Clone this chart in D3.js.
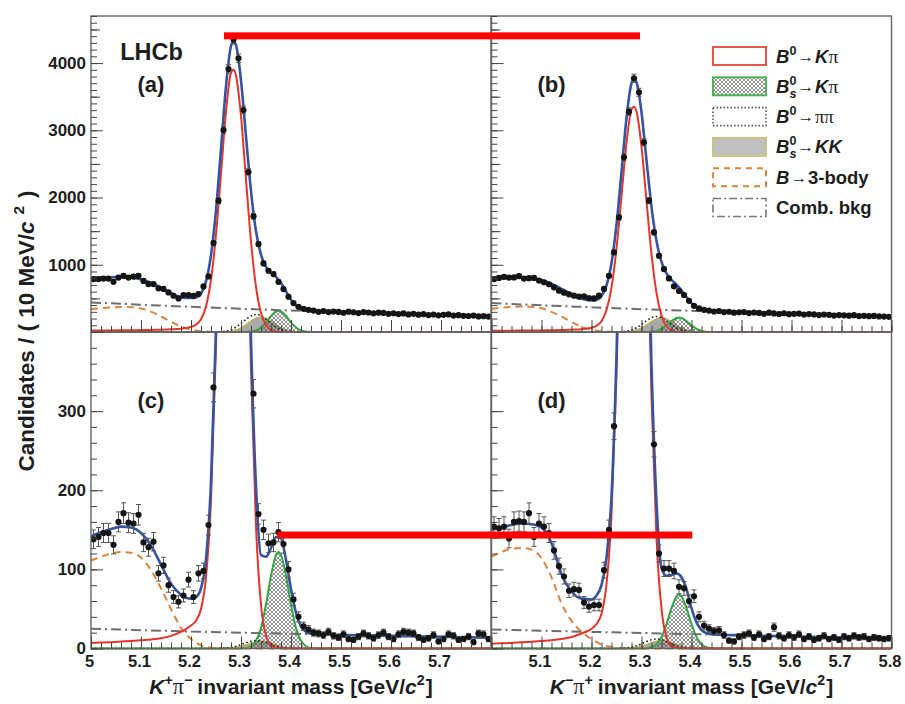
<!DOCTYPE html>
<html><head><meta charset="utf-8">
<script src="https://cdn.jsdelivr.net/npm/d3@7"></script>
<style>
body{margin:0;background:#fff;}
text{font-family:"Liberation Sans",Arial,Helvetica,sans-serif;font-weight:bold;fill:#1e1e1e;}
</style></head><body>
<svg id="chart" width="905" height="704"></svg>
<script>
// ---------------- data ----------------
const massDomain = [5.0, 5.8];
const binStart = 5.0, binWidth = 0.01;

// candidates per 10 MeV bin (80 bins, 5.00 - 5.80)
const countsA = [787,787,794,794,747,810,836,810,825,836, 760,713,713,649,640,589,539,500,549,549,
  539,564,678,827,1323,1953,3004,3912,4349,4071, 3302,2380,1720,1308,1020,911,862,747,638,524,
  430,375,345,330,318,300,312,296,305,299, 286,302,294,281,297,290,278,288,283,270,
  279,268,276,262,271,258,265,252,260,248, 256,262,244,250,241,238,245,232,236,230];
const countsB = [787,805,820,810,812,830,795,800,805,765, 740,710,665,615,585,560,540,525,530,505,
  500,540,640,836,1184,1705,2598,3277,3773,3565, 2821,1953,1482,1134,936,797,680,610,550,464,
  390,351,330,318,305,312,296,301,288,294, 297,281,290,284,271,287,276,268,279,265,
  270,274,259,266,262,251,260,255,244,252, 248,243,250,237,241,235,239,231,229,225];
const countsC = [138,141,146,146,131,160,171,159,158,169, 134,128,135,95,105,80,65,59,67,87,
  65,95,98,156,330,560,880,1150,1290,1130, 860,530,322,170,150,133,134,147,132,100,
  62,40,28,24,20,19,17,21,16,14, 18,12,11,15,19,16,13,17,20,15,
  12,18,21,20,19,14,11,13,17,9, 12,18,16,11,12,15,8,19,18,12];
const countsD = [154,152,154,139,160,161,160,171,141,158, 154,146,124,104,91,73,75,74,58,53,
  55,55,99,150,281,500,790,1050,1150,1040, 780,485,258,120,101,101,98,78,76,60,
  66,40,29,25,22,23,17,10,9,15, 17,19,14,18,12,15,27,16,13,17,
  14,18,12,15,11,13,16,12,14,11, 15,13,16,14,15,12,14,13,12,13];

// fit curves (values read at these masses)
const fitX = [5.00,5.02,5.04,5.06,5.08,5.10,5.12,5.14,5.16,5.18,5.20,5.21,5.22,5.23,5.24,5.25,5.26,5.27,5.28,5.285,
  5.29,5.30,5.31,5.32,5.33,5.34,5.35,5.36,5.37,5.38,5.39,5.40,5.41,5.42,5.43,5.44,5.46,5.50,5.55,5.60,5.65,5.70,5.75,5.80];
const totalA = [800,809,815,816,808,785,733,659,580,515,505,515,571,752,1144,1809,2721,3652,4256,4322,
  4267,3743,2908,2095,1498,1146,968,884,820,728,605,481,392,342,320,312,305,295,284,272,261,251,241,231];
const totalB = [793,802,809,809,800,773,718,642,565,493,468,477,534,692,1025,1596,2379,3180,3700,3759,
  3714,3267,2555,1862,1352,1042,871,777,703,619,521,429,365,329,313,306,301,291,280,269,259,249,240,230];
const totalC = [142,147,151,154,153,146,130,106,82,68,63,65,76,113,210,404,700,1030,1250,1275,
  1242,1018,687,391,205,118,116,127,141,139,112,75,45,28,21,18.7,17.8,17.2,16.6,16,15.4,14.8,14.25,13.7];
const totalD = [150,153,156,158,157,153,133,94,72,63,62,67,80,115,192,370,637,933,1131,1152,
  1125,924,625,358,185,102,92,93,95,90,75,51,33,23.3,19.4,18,17.3,16.8,16,15.3,14.5,13.8,13,12.3];

const b0KpiA = [21,22,23.5,25,26.5,28,31,34,40,50,77,110,190,380,777,1447,2357,3278,3856,3900,
  3816,3208,2267,1347,672,282,99,30,8,1.5,0.3,0,0,0,0,0,0,0,0,0,0,0,0,0];
const b0KpiB = [18,19,20,21,22,23,26,28,35,42,64,91,160,326,665,1240,2022,2814,3311,3350,
  3278,2756,1947,1157,578,243,85,25,6.3,1.3,0.3,0,0,0,0,0,0,0,0,0,0,0,0,0];
const b0KpiC = [7,7.5,8,8.7,9.5,10.5,11.5,13,16,21,29,35,50,90,188,383,679,1008,1227,1250,
  1218,991,655,353,154,55,16,4,1,0.2,0,0,0,0,0,0,0,0,0,0,0,0,0,0];
const b0KpiD = [6,6.5,7,7.8,8.5,9.5,10.5,12,14.5,19,25,31,44,81,169,346,614,911,1109,1130,
  1101,896,592,319,139,50,14,3.6,1,0.2,0,0,0,0,0,0,0,0,0,0,0,0,0,0];

const bsKpiX = [5.00,5.30,5.31,5.32,5.33,5.34,5.35,5.36,5.37,5.375,5.38,5.39,5.40,5.41,5.42,5.43,5.44,5.45,5.80];
const bsKpiA = [0,0.3,1.6,7.2,25,68,144,238,305,315,305,238,144,68,25,7.2,1.6,0.3,0];
const bsKpiB = [0,0.2,1.1,4.9,17,47,98,162,208,215,208,162,98,47,17,4.9,1.1,0.2,0];
const bsKpiC = [0,0.1,0.6,2.8,9.7,26,56,92,118,122,118,92,56,26,9.7,2.8,0.6,0.1,0];
const bsKpiD = [0,0.06,0.35,1.6,5.4,14.7,31,51,66,68,66,51,31,14.7,5.4,1.6,0.35,0.06,0];

const pipiX = [5.00,5.23,5.24,5.25,5.26,5.27,5.28,5.29,5.30,5.31,5.32,5.33,5.34,5.35,5.36,5.37,5.38,5.39,5.40,5.41,5.42,5.43,5.80];
const pipiA = [0,0.1,0.4,1.6,5.1,14.6,35.2,72.3,126.6,188.8,240,260,240,188.8,126.6,72.3,35.2,14.6,5.1,1.6,0.4,0.1,0];
const pipiB = [0,0.1,0.3,1.4,4.6,12.9,31.1,63.9,112,167,212.3,230,212.3,167,112,63.9,31.1,12.9,4.6,1.4,0.3,0.1,0];
const pipiC = [0,0,0.02,0.06,0.2,0.56,1.35,2.78,4.87,7.26,9.23,10,9.23,7.26,4.87,2.78,1.35,0.56,0.2,0.06,0.02,0,0];
const pipiD = [0,0,0.02,0.07,0.24,0.67,1.62,3.34,5.84,8.71,11.08,12,11.08,8.71,5.84,3.34,1.62,0.67,0.24,0.07,0.02,0,0];

const kkX = [5.00,5.24,5.25,5.26,5.27,5.28,5.29,5.30,5.31,5.32,5.33,5.34,5.35,5.36,5.37,5.38,5.39,5.40,5.41,5.42,5.43,5.44,5.80];
const kkA = [0,0.1,0.3,1.3,4.4,12.3,29.8,61.2,107.1,159.7,203.1,220,203.1,159.7,107.1,61.2,29.8,12.3,4.4,1.3,0.3,0.1,0];
const kkB = [0,0.1,0.3,1.3,4.2,11.8,28.4,58.4,102.3,152.5,193.8,210,193.8,152.5,102.3,58.4,28.4,11.8,4.2,1.3,0.3,0.1,0];
const kkC = [0,0,0.01,0.05,0.18,0.5,1.22,2.5,4.38,6.53,8.31,9,8.31,6.53,4.38,2.5,1.22,0.5,0.18,0.05,0.01,0,0];
const kkD = [0,0,0.02,0.06,0.2,0.56,1.35,2.78,4.87,7.26,9.23,10,9.23,7.26,4.87,2.78,1.35,0.56,0.2,0.06,0.02,0,0];

const threeBodyX = [5.00,5.02,5.04,5.06,5.08,5.10,5.12,5.14,5.16,5.18,5.20,5.22,5.24,5.26,5.30,5.80];
const threeBodyA = [339,354,366,372,369,351,302,232,153,79,37,12,3,0,0,0];
const threeBodyB = [345,360,372,378,374,352,300,228,150,77,36,12,3,0,0,0];
const threeBodyC = [111,116,120,122,121,115,99,76,50,26,12,4,1,0,0,0];
const threeBodyD = [116,122,126,127,125,114,90,57,35,21,12,5,2,0,0,0];

const combX = [5.0,5.1,5.2,5.3,5.4,5.5,5.6,5.7,5.8];
const combA = [440,406,375,346,320,295,272,251,231];
const combB = [430,398,368,340,315,291,269,249,230];
const combC = [25,23.2,21.5,20,18.6,17.2,16,14.8,13.7];
const combD = [24,22.5,21,19.6,18.2,16.8,15.3,13.8,12.3];

// axis ticks / labels
const yTopLabels = [1000,2000,3000,4000];
const yBottomLabels = [0,100,200,300];
const xLabelsLeft = [5.0,5.1,5.2,5.3,5.4,5.5,5.6,5.7];
const xLabelsRight = [5.1,5.2,5.3,5.4,5.5,5.6,5.7,5.8];
const panelNames = ['(a)','(b)','(c)','(d)'];
const legendNames = ['B0→Kπ','Bs0→Kπ','B0→ππ','Bs0→KK','B→3-body','Comb. bkg'];
// annotation bars (data coordinates)
const markers = [
  {from:0, fromX:5.266, to:1, toX:5.297, y:4405},
  {from:2, fromX:5.3726, to:3, toX:5.4016, y:143.4}
];

// ---------------- layout ----------------
const colRanges = [[91,491],[491.5,891.5]];
const rowRanges = [[16,332],[332,648.5]];
const yDomains = [[0,4700],[0,400]];
const C = {blue:'#3553a3', red:'#e5352b', green:'#35a545', orange:'#d8853f', comb:'#6e6e6e',
           grey:'#a9a9a9', olive:'#b9b265', frame:'#666'};

const svg = d3.select('#chart');
const defs = svg.append('defs');
const pat = defs.append('pattern').attr('id','hatch').attr('width',4).attr('height',4)
  .attr('patternUnits','userSpaceOnUse');
pat.append('path').attr('d','M0,0L4,4M4,0L0,4M-1,3L1,5M3,-1L5,1M-1,1L1,-1M3,5L5,3')
  .attr('stroke','#4a4a4a').attr('stroke-width',0.6);

const xScales = colRanges.map(r => d3.scaleLinear().domain(massDomain).range(r));
const yScales = rowRanges.map((r,i) => d3.scaleLinear().domain(yDomains[i]).range([r[1], r[0]]));

const panels = [
  {col:0,row:0,counts:countsA,total:totalA,red:b0KpiA,bs:bsKpiA,pipi:pipiA,kk:kkA,three:threeBodyA,comb:combA},
  {col:1,row:0,counts:countsB,total:totalB,red:b0KpiB,bs:bsKpiB,pipi:pipiB,kk:kkB,three:threeBodyB,comb:combB},
  {col:0,row:1,counts:countsC,total:totalC,red:b0KpiC,bs:bsKpiC,pipi:pipiC,kk:kkC,three:threeBodyC,comb:combC},
  {col:1,row:1,counts:countsD,total:totalD,red:b0KpiD,bs:bsKpiD,pipi:pipiD,kk:kkD,three:threeBodyD,comb:combD}
];

const xMajor = d3.range(0,9).map(i => 5 + i*0.1);
const xMinor = d3.range(0,41).map(i => 5 + i*0.02);
const yTicks = [
  {major: d3.range(0,4701,1000), mid: d3.range(500,4701,1000), minor: d3.range(0,4701,100)},
  {major: d3.range(0,401,100), mid: [], minor: d3.range(0,401,20)}
];

function styleTicks(sel){ sel.select('.domain').remove(); sel.selectAll('line').attr('stroke','#444').attr('stroke-width',1); }

panels.forEach((p,i) => {
  const x = xScales[p.col], y = yScales[p.row];
  const [x0,x1] = x.range(); const [yb,yt] = y.range();
  const g = svg.append('g');
  defs.append('clipPath').attr('id','clip'+i).append('rect')
    .attr('x',x0).attr('y',yt).attr('width',x1-x0).attr('height',yb-yt+1.5);
  const cg = g.append('g').attr('clip-path',`url(#clip${i})`);
  const line = xs => d3.line().x((d,k)=>x(xs[k])).y(d=>y(d)).curve(d3.curveMonotoneX);
  const area = xs => d3.area().x((d,k)=>x(xs[k])).y0(y(0)).y1(d=>y(d)).curve(d3.curveMonotoneX);

  // B0s -> KK (grey)
  cg.append('path').attr('d',area(kkX)(p.kk)).attr('fill',C.grey).attr('stroke','none');
  cg.append('path').attr('d',line(kkX)(p.kk)).attr('fill','none').attr('stroke',C.olive).attr('stroke-width',1.6);
  // B0s -> Kpi (hatched)
  cg.append('path').attr('d',area(bsKpiX)(p.bs)).attr('fill','url(#hatch)').attr('stroke','none');
  cg.append('path').attr('d',line(bsKpiX)(p.bs)).attr('fill','none').attr('stroke',C.green).attr('stroke-width',2);
  // 3-body
  cg.append('path').attr('d',line(threeBodyX)(p.three)).attr('fill','none').attr('stroke',C.orange)
    .attr('stroke-width',2).attr('stroke-dasharray','7,5');
  // combinatorial
  cg.append('path').attr('d',line(combX)(p.comb)).attr('fill','none').attr('stroke',C.comb)
    .attr('stroke-width',2).attr('stroke-dasharray','10,4,2,4');
  // B0 -> pipi
  cg.append('path').attr('d',line(pipiX)(p.pipi)).attr('fill','none').attr('stroke','#222')
    .attr('stroke-width',1.6).attr('stroke-dasharray','1.6,2.4');
  // B0 -> Kpi
  cg.append('path').attr('d',line(fitX)(p.red)).attr('fill','none').attr('stroke',C.red).attr('stroke-width',2);
  // total
  cg.append('path').attr('d',line(fitX)(p.total)).attr('fill','none').attr('stroke',C.blue).attr('stroke-width',2.6);

  // data points with Poisson error bars
  const pts = cg.append('g');
  p.counts.forEach((v,k) => {
    const xc = x(binStart + binWidth*(k+0.5));
    const e = Math.sqrt(v);
    pts.append('line').attr('x1',xc).attr('x2',xc).attr('y1',y(v-e)).attr('y2',y(v+e))
      .attr('stroke','#555').attr('stroke-width',1);
    [v-e, v+e].forEach(vv => pts.append('line').attr('x1',xc-2.5).attr('x2',xc+2.5)
      .attr('y1',y(vv)).attr('y2',y(vv)).attr('stroke','#555').attr('stroke-width',1));
    pts.append('circle').attr('cx',xc).attr('cy',y(v)).attr('r',3.1).attr('fill','#151515');
  });

  // frame
  g.append('rect').attr('x',x0).attr('y',yt).attr('width',x1-x0).attr('height',yb-yt)
    .attr('fill','none').attr('stroke',C.frame).attr('stroke-width',1.4);

  // x ticks (inside, from the bottom)
  g.append('g').attr('transform',`translate(0,${yb})`)
    .call(d3.axisBottom(x).tickValues(xMinor).tickSize(-6).tickFormat('')).call(styleTicks);
  g.append('g').attr('transform',`translate(0,${yb})`)
    .call(d3.axisBottom(x).tickValues(xMajor).tickSize(-12).tickFormat('')).call(styleTicks);
  // y ticks (inside, from the left)
  const yt_ = yTicks[p.row];
  g.append('g').attr('transform',`translate(${x0},0)`)
    .call(d3.axisRight(y).tickValues(yt_.minor).tickSize(6).tickFormat('')).call(styleTicks);
  if (yt_.mid.length) g.append('g').attr('transform',`translate(${x0},0)`)
    .call(d3.axisRight(y).tickValues(yt_.mid).tickSize(9).tickFormat('')).call(styleTicks);
  g.append('g').attr('transform',`translate(${x0},0)`)
    .call(d3.axisRight(y).tickValues(yt_.major).tickSize(12).tickFormat('')).call(styleTicks);

  // labels
  if (p.row === 1) {
    const ax = g.append('g').attr('transform',`translate(-2,${yb})`)
      .call(d3.axisBottom(x).tickValues(p.col===0 ? xLabelsLeft : xLabelsRight).tickSize(0).tickPadding(6.5)
        .tickFormat(d => Math.abs(d-5) < 1e-9 ? '5' : d3.format('.1f')(d)));
    ax.select('.domain').remove();
    ax.attr('font-size',16.5);
  }
  if (p.col === 0) {
    const ay = g.append('g').attr('transform',`translate(${x0},0)`)
      .call(d3.axisLeft(y).tickValues(p.row===0 ? yTopLabels : yBottomLabels).tickSize(0).tickPadding(5)
        .tickFormat(d3.format('d')));
    ay.select('.domain').remove();
    ay.attr('font-size',17);
  }
  // panel label
  g.append('text').attr('x', x0 + 60).attr('y', p.row===0 ? 92 : 408).attr('text-anchor','middle')
    .attr('font-size',22).text(panelNames[i]);
});

svg.append('text').attr('x',151.5).attr('y',60).attr('text-anchor','middle').attr('font-size',23.5).text('LHCb');

// ---------------- rich text helper ----------------
function rich(parent, segs, size){
  const g = parent.append('g');
  let x = 0, segStart = 0;
  segs.forEach(s => {
    const t = g.append('text').attr('font-size', size*(s.k||1)).text(s.t);
    if (s.it) t.attr('font-style','italic');
    if (s.serif) t.style('font-family','"Liberation Serif","DejaVu Serif",serif').style('font-weight','normal');
    if (s.light) t.style('font-weight','normal');
    const xs = s.stack ? segStart : x;
    t.attr('x', xs + (s.dx||0)).attr('y', s.dy||0);
    const w = t.node().getComputedTextLength() + (s.dx||0);
    if (s.stack) x = Math.max(x, xs + w); else { segStart = xs + (s.dx||0); x = xs + w; }
  });
  return {g, width:x};
}

// axis titles
const sup = (t) => ({t, k:0.68, dy:-9});
function xTitle(segs, cx){
  const r = rich(svg, segs, 21);
  r.g.attr('transform',`translate(${cx - r.width/2},694)`);
}
xTitle([{t:'K',it:true}, sup('+'), {t:'π',serif:true,k:1.05}, sup('−'), {t:'invariant mass [GeV/',dx:5},
        {t:'c',it:true}, sup('2'), {t:']',dx:1}], 291);
xTitle([{t:'K',it:true}, sup('−'), {t:'π',serif:true,k:1.05}, sup('+'), {t:'invariant mass [GeV/',dx:5},
        {t:'c',it:true}, sup('2'), {t:']',dx:1}], 691.5);
{
  const r = rich(svg, [{t:'Candidates / ( 10 MeV/'}, {t:'c',it:true}, {t:'2',k:0.68,dy:-10,dx:7}, {t:')',dx:8}], 22.5);
  r.g.attr('transform',`translate(34,${331 + r.width/2}) rotate(-90)`);
}

// ---------------- legend ----------------
const legendStyles = [
  {fill:'#fff', stroke:'#e25a44', dash:null, w:2},
  {fill:'url(#hatch)', stroke:'#4db258', dash:null, w:2},
  {fill:'#fff', stroke:'#555', dash:'1.5,2', w:1.6},
  {fill:'#c0c0c0', stroke:'#c9c283', dash:null, w:2},
  {fill:'#fff', stroke:C.orange, dash:'6,5', w:2},
  {fill:'#fff', stroke:'#777', dash:'8,3,2,3', w:1.6}
];
const B = {t:'B',it:true}, zero = {t:'0',k:0.68,dy:-8}, sub_s = {t:'s',it:true,k:0.68,dy:5,stack:true},
      arrow = {t:'→',k:0.9,dy:-1,light:true,dx:1};
const legendSegs = [
  [B, zero, arrow, {t:'K',it:true,dx:1}, {t:'π',serif:true,k:1.05}],
  [B, zero, sub_s, arrow, {t:'K',it:true,dx:1}, {t:'π',serif:true,k:1.05}],
  [B, zero, arrow, {t:'ππ',serif:true,k:1.0,dx:1}],
  [B, zero, sub_s, arrow, {t:'KK',it:true,dx:1}],
  [B, arrow, {t:'3-body',dx:1}],
  [{t:legendNames[5]}]
];
const legY = d3.scaleLinear().domain([0,5]).range([56,207.5]);
legendNames.forEach((name,i) => {
  const s = legendStyles[i], cy = legY(i);
  const r = svg.append('rect').attr('x',713).attr('y',cy-9).attr('width',53).attr('height',18)
    .attr('fill',s.fill).attr('stroke',s.stroke).attr('stroke-width',s.w);
  if (s.dash) r.attr('stroke-dasharray',s.dash);
  const t = rich(svg, legendSegs[i], 18.5);
  t.g.attr('transform',`translate(776,${cy+6.5})`).attr('data-name',name);
});

// ---------------- annotation bars ----------------
markers.forEach(m => {
  const pa = panels[m.from], pb = panels[m.to];
  const xa = xScales[pa.col](m.fromX), xb = xScales[pb.col](m.toX), yy = yScales[pa.row](m.y);
  svg.append('rect').attr('x',xa).attr('y',yy-3.5).attr('width',xb-xa).attr('height',7).attr('fill','#ff0000');
});
</script>
</body></html>
